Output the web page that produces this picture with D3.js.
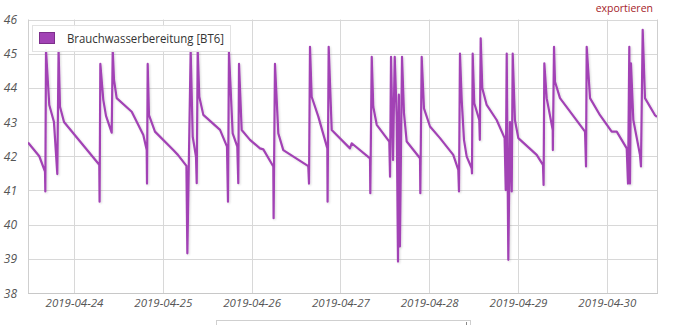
<!DOCTYPE html>
<html><head><meta charset="utf-8">
<script src="https://cdn.jsdelivr.net/npm/d3@7"></script>
<style>
html,body{margin:0;padding:0;background:#fff;}
svg{display:block;}
</style></head>
<body><svg id="c" width="679" height="325"></svg>
<script>
const seriesName = "Brauchwasserbereitung [BT6]";
const times = [
"2019-04-23 11:34","2019-04-23 14:37","2019-04-23 16:10","2019-04-23 16:15","2019-04-23 16:26","2019-04-23 17:19","2019-04-23 18:35","2019-04-23 19:29","2019-04-23 19:50","2019-04-23 20:13","2019-04-23 21:18",
"2019-04-24 06:50","2019-04-24 06:55","2019-04-24 07:07","2019-04-24 07:55","2019-04-24 08:39","2019-04-24 10:11","2019-04-24 10:28","2019-04-24 10:49","2019-04-24 11:32","2019-04-24 15:36","2019-04-24 18:44","2019-04-24 19:39","2019-04-24 19:44","2019-04-24 19:55","2019-04-24 20:16","2019-04-24 21:53",
"2019-04-25 02:50","2019-04-25 04:05","2019-04-25 06:23","2019-04-25 06:38","2019-04-25 07:32","2019-04-25 08:05","2019-04-25 08:58","2019-04-25 09:10","2019-04-25 09:26","2019-04-25 09:52","2019-04-25 10:57","2019-04-25 15:28","2019-04-25 17:21","2019-04-25 17:37","2019-04-25 17:53","2019-04-25 18:53","2019-04-25 20:08","2019-04-25 20:24","2019-04-25 20:36","2019-04-25 21:19","2019-04-25 23:34",
"2019-04-26 02:16","2019-04-26 03:10","2019-04-26 05:52","2019-04-26 05:57","2019-04-26 06:19","2019-04-26 07:13","2019-04-26 08:34","2019-04-26 15:19","2019-04-26 15:31","2019-04-26 15:47","2019-04-26 16:14","2019-04-26 18:02","2019-04-26 20:28","2019-04-26 20:32","2019-04-26 20:50","2019-04-26 21:39",
"2019-04-27 02:35","2019-04-27 03:03","2019-04-27 08:00","2019-04-27 08:05","2019-04-27 08:28","2019-04-27 08:53","2019-04-27 09:49","2019-04-27 13:13","2019-04-27 13:25","2019-04-27 13:41","2019-04-27 14:13","2019-04-27 14:41","2019-04-27 15:13","2019-04-27 15:34","2019-04-27 15:48","2019-04-27 16:05","2019-04-27 16:39","2019-04-27 17:11","2019-04-27 17:55","2019-04-27 21:31","2019-04-27 21:36","2019-04-27 21:58","2019-04-27 22:35",
"2019-04-28 00:13","2019-04-28 02:55","2019-04-28 06:30","2019-04-28 07:52","2019-04-28 08:03","2019-04-28 08:19","2019-04-28 08:47","2019-04-28 09:24","2019-04-28 10:08","2019-04-28 11:29","2019-04-28 11:34","2019-04-28 11:45","2019-04-28 12:11","2019-04-28 13:32","2019-04-28 13:41","2019-04-28 13:55","2019-04-28 14:21","2019-04-28 15:32","2019-04-28 18:14","2019-04-28 20:23","2019-04-28 20:41","2019-04-28 20:57","2019-04-28 21:23","2019-04-28 21:50","2019-04-28 22:18","2019-04-28 22:34","2019-04-28 23:10",
"2019-04-29 00:05","2019-04-29 05:03","2019-04-29 06:45","2019-04-29 06:55","2019-04-29 07:07","2019-04-29 07:45","2019-04-29 09:23","2019-04-29 09:25","2019-04-29 09:44","2019-04-29 10:00","2019-04-29 11:21","2019-04-29 18:07","2019-04-29 18:23","2019-04-29 18:34","2019-04-29 19:28","2019-04-29 22:10",
"2019-04-30 01:19","2019-04-30 02:41","2019-04-30 05:23","2019-04-30 05:44","2019-04-30 06:05","2019-04-30 06:16","2019-04-30 06:32","2019-04-30 07:10","2019-04-30 08:58","2019-04-30 09:14","2019-04-30 09:42","2019-04-30 10:19","2019-04-30 13:02","2019-04-30 13:34"
];
const values = [
42.40,42.00,41.55,40.97,45.10,43.50,43.00,41.48,45.10,43.45,43.00,
41.75,40.67,44.70,43.65,43.18,42.69,45.10,44.23,43.70,43.30,42.62,42.18,41.20,44.70,43.20,42.72,
42.18,42.04,41.72,39.16,45.10,42.57,41.99,41.21,45.10,43.74,43.21,42.77,42.28,40.67,45.05,42.67,42.28,41.21,44.70,42.77,42.48,
42.23,42.20,41.70,40.19,44.70,42.67,42.18,41.71,41.20,45.20,43.74,43.16,42.23,40.67,45.20,42.77,
42.23,42.38,41.94,40.92,44.91,43.45,42.92,42.43,41.40,44.91,41.89,44.91,43.16,38.92,43.80,39.36,44.91,43.26,42.43,41.94,40.92,44.91,43.40,
42.87,42.53,42.04,41.60,40.97,45.00,43.65,42.48,41.99,41.65,41.50,45.00,43.55,43.06,42.48,45.45,43.99,43.50,43.06,42.53,41.01,45.00,38.97,43.00,40.97,45.00,43.06,
42.53,42.04,41.75,41.16,44.72,43.70,42.77,42.18,45.20,44.18,43.70,42.72,41.70,45.20,43.70,43.20,
42.72,42.72,42.23,41.20,45.20,41.20,44.72,43.06,42.04,41.70,45.70,43.70,43.20,43.15
];
const yTicks = [38,39,40,41,42,43,44,45,46];
const xDomain = ["2019-04-23 11:34","2019-04-30 13:34"];
const exportLabel = "exportieren";

const parse = d3.timeParse("%Y-%m-%d %H:%M");
const data = times.map((t,i)=>({t:parse(t), v:values[i]}));

const svg = d3.select("#c");
const L = 28, R = 657, T = 19.5, B = 293;
const x = d3.scaleTime().domain(xDomain.map(parse)).range([L, R]);
const y = d3.scaleLinear().domain([38,46]).range([B, T]);
const lineColor = "#a243b5";

const defs = svg.append("defs");
const f = defs.append("filter").attr("id","sh").attr("x","-5%").attr("y","-5%").attr("width","110%").attr("height","120%");
f.append("feOffset").attr("in","SourceAlpha").attr("dx",1).attr("dy",1).attr("result","o");
f.append("feGaussianBlur").attr("in","o").attr("stdDeviation",1).attr("result","b");
f.append("feComponentTransfer").attr("in","b").attr("result","b2").append("feFuncA").attr("type","linear").attr("slope",0.15);
const m = f.append("feMerge"); m.append("feMergeNode").attr("in","b2"); m.append("feMergeNode").attr("in","SourceGraphic");

// horizontal grid
svg.append("g").selectAll("line").data(yTicks).join("line")
  .attr("x1",L).attr("x2",R)
  .attr("y1",d=>Math.round(y(d))+0.5).attr("y2",d=>Math.round(y(d))+0.5)
  .attr("stroke","#d8d8d8").attr("stroke-width",1);

// vertical grid from time ticks
const dayTicks = x.ticks(d3.timeDay.every(1));
svg.append("g").selectAll("line").data(dayTicks).join("line")
  .attr("x1",d=>Math.round(x(d))+0.5).attr("x2",d=>Math.round(x(d))+0.5)
  .attr("y1",T).attr("y2",B)
  .attr("stroke","#d8d8d8").attr("stroke-width",1);

// borders
svg.append("line").attr("x1",L+0.5).attr("x2",L+0.5).attr("y1",T).attr("y2",B).attr("stroke","#cfcfcf");
svg.append("line").attr("x1",R+0.5).attr("x2",R+0.5).attr("y1",T).attr("y2",B).attr("stroke","#cfcfcf");
svg.append("line").attr("x1",L).attr("x2",R+1).attr("y1",Math.round(B)+0.5).attr("y2",Math.round(B)+0.5).attr("stroke","#c8c8c8");

// y labels
svg.append("g").selectAll("text").data(yTicks).join("text")
  .attr("x",17).attr("y",d=>y(d)+4.5).attr("text-anchor","end")
  .attr("font-family","'Open Sans', sans-serif").attr("font-style","italic").attr("font-size",12)
  .attr("fill","#555").text(d=>d);

// x axis labels
const xAxis = d3.axisBottom(x).ticks(d3.timeDay.every(1)).tickFormat(d3.timeFormat("%Y-%m-%d")).tickSize(0).tickPadding(0);
const gx = svg.append("g").attr("transform",`translate(0,${B})`).call(xAxis);
gx.select(".domain").remove();
gx.selectAll("text").attr("y",14).attr("dy",0)
  .attr("font-family","'Open Sans', sans-serif").attr("font-style","italic").attr("font-size",11.5).attr("fill","#555");

// line
const line = d3.line().x(d=>x(d.t)).y(d=>y(d.v));
defs.append("clipPath").attr("id","clip").append("rect").attr("x",L).attr("y",0).attr("width",R-L).attr("height",B);
svg.append("path").datum(data).attr("d",line).attr("fill","none")
  .attr("stroke",lineColor).attr("stroke-width",2.2).attr("stroke-linejoin","round")
  .attr("clip-path","url(#clip)").attr("filter","url(#sh)");

// legend
const lg = svg.append("g");
lg.append("rect").attr("x",32.5).attr("y",25.5).attr("width",198).attr("height",26)
  .attr("fill","#fff").attr("fill-opacity",0.92).attr("stroke","#e2e2e2");
lg.append("rect").attr("x",39.5).attr("y",32.5).attr("width",15).attr("height",11)
  .attr("fill",lineColor).attr("stroke","#7d2f8c").attr("stroke-width",1);
lg.append("text").attr("x",67).attr("y",43).attr("font-family","'Open Sans', sans-serif")
  .attr("font-size",12.5).attr("fill","#333").attr("textLength",157).attr("lengthAdjust","spacingAndGlyphs").text(seriesName);

// export label
svg.append("text").attr("x",653).attr("y",11.5).attr("text-anchor","end")
  .attr("font-family","'Open Sans', sans-serif").attr("font-size",10.5).attr("fill","#a5232a").text(exportLabel);

// bottom box (partially visible control)
svg.append("rect").attr("x",216.5).attr("y",320.5).attr("width",254).attr("height",20)
  .attr("fill","#fff").attr("stroke","#cfcfcf");
svg.append("line").attr("x1",466.5).attr("x2",466.5).attr("y1",322).attr("y2",325).attr("stroke","#888");
</script></body></html>
